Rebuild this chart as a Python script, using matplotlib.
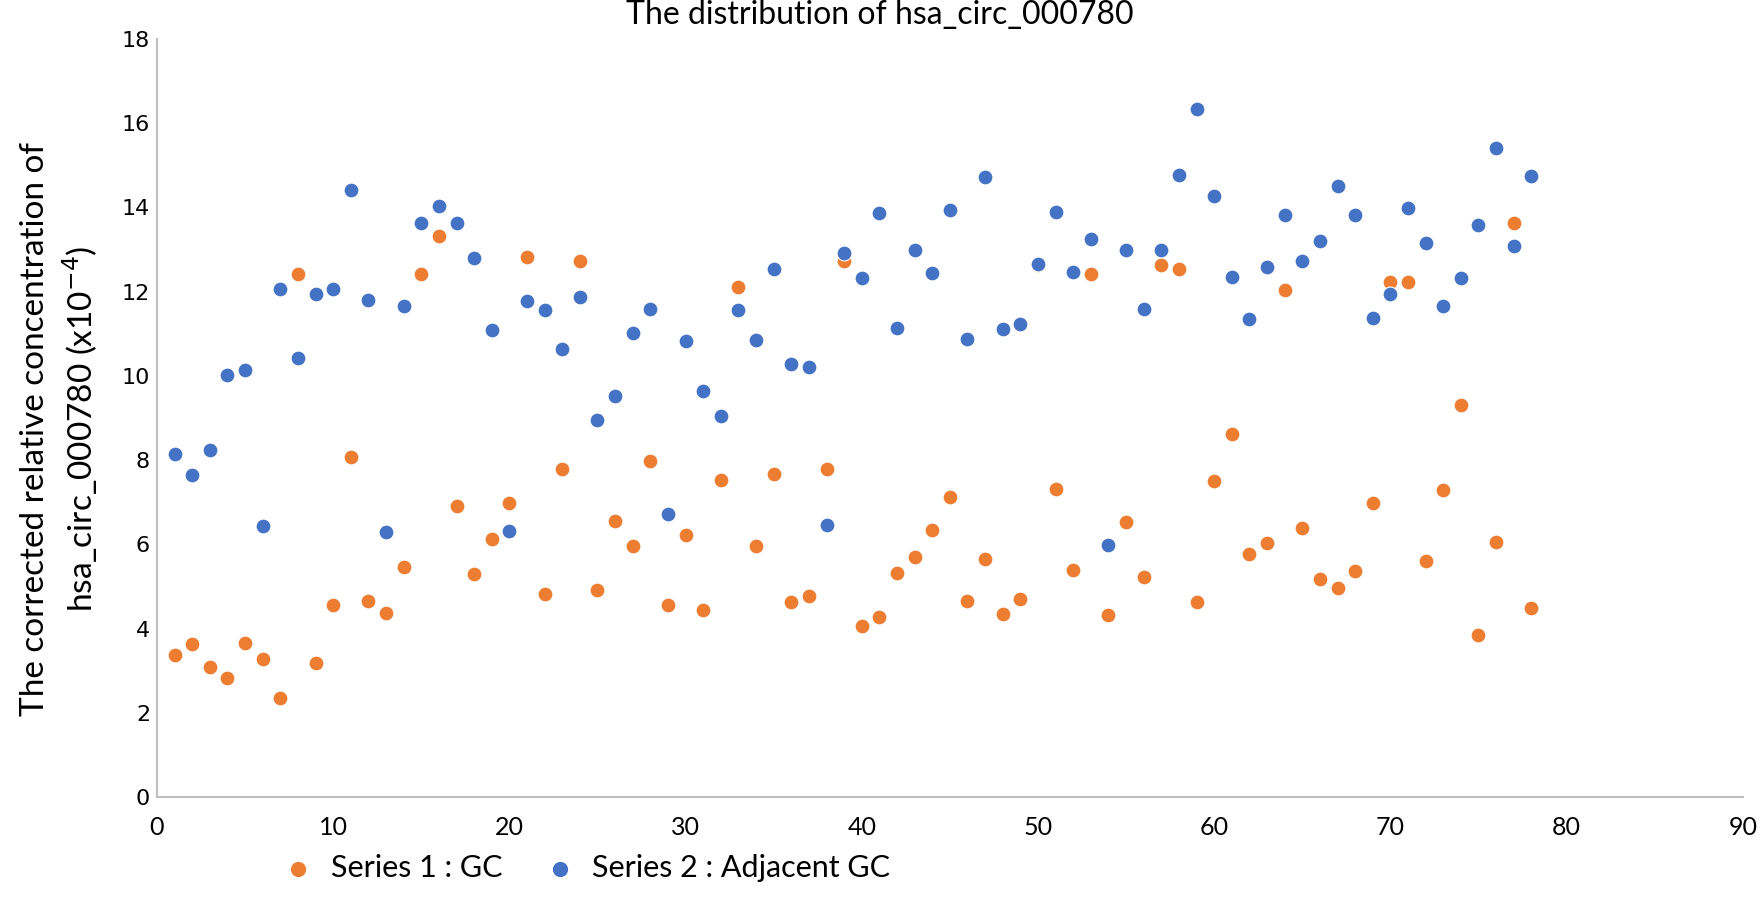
import matplotlib
matplotlib.use("Agg")
import matplotlib.pyplot as plt

# sample index 1..78
sample_no = list(range(1, 79))

# Series 1 : GC (orange)
gc = [3.37, 3.63, 3.08, 2.82, 3.66, 3.28, 2.36, 12.43, 3.19, 4.57,
      8.07, 4.66, 4.37, 5.46, 12.43, 13.32, 6.92, 5.29, 6.12, 6.98,
      12.83, 4.83, 7.78, 12.72, 4.92, 6.55, 5.95, 7.98, 4.57, 6.21,
      4.43, 7.52, 12.11, 5.95, 7.67, 4.63, 4.77, 7.78, 12.72, 4.05,
      4.28, 5.32, 5.69, 6.35, 7.13, 4.66, 5.66, 4.34, 4.71, 12.63,
      7.32, 5.40, 12.43, 4.31, 6.52, 5.23, 12.63, 12.53, 4.62, 7.50,
      8.61, 5.77, 6.03, 12.03, 6.38, 5.17, 4.97, 5.37, 6.98, 12.23,
      12.23, 5.60, 7.29, 9.30, 3.85, 6.06, 13.63, 4.48]

# Series 2 : Adjacent GC (blue)
adjacent = [8.14, 7.64, 8.24, 10.02, 10.13, 6.44, 12.06, 10.42, 11.94, 12.06,
            14.41, 11.81, 6.29, 11.66, 13.64, 14.04, 13.64, 12.80, 11.08, 6.32,
            11.77, 11.57, 10.65, 11.88, 8.95, 9.53, 11.03, 11.60, 6.72, 10.82,
            9.65, 9.04, 11.57, 10.85, 12.55, 10.28, 10.22, 6.46, 12.92, 12.32,
            13.86, 11.14, 12.98, 12.45, 13.95, 10.88, 14.73, 11.12, 11.23, 12.66,
            13.90, 12.46, 13.26, 5.98, 12.98, 11.60, 12.98, 14.78, 16.33, 14.27,
            12.34, 11.34, 12.58, 13.81, 12.72, 13.21, 14.50, 13.81, 11.37, 11.94,
            13.98, 13.15, 11.66, 12.32, 13.58, 15.42, 13.09, 14.75]

x_ticks = [0, 10, 20, 30, 40, 50, 60, 70, 80, 90]
y_ticks = [0, 2, 4, 6, 8, 10, 12, 14, 16, 18]

plt.rcParams['font.family'] = ['Lato', 'DejaVu Sans']

fig = plt.figure(figsize=(17.6, 8.99), dpi=100)
ax = fig.add_axes([0.0892, 0.1135, 0.901, 0.8431])

ax.scatter(sample_no, gc, s=115, color='#ED7D31', edgecolors='white',
           linewidths=0.8, label='Series 1 : GC', zorder=3)
ax.scatter(sample_no, adjacent, s=115, color='#4472C4', edgecolors='white',
           linewidths=0.8, label='Series 2 : Adjacent GC', zorder=3)

ax.set_xlim(0, 90)
ax.set_ylim(0, 18)
ax.set_xticks(x_ticks)
ax.set_yticks(y_ticks)
ax.tick_params(axis='both', length=0)
ax.tick_params(axis='x', labelsize=18, pad=14)
ax.tick_params(axis='y', labelsize=16, pad=5)
for lab in ax.get_yticklabels():
    lab.set_fontfamily('DejaVu Sans')

for side in ['top', 'right']:
    ax.spines[side].set_visible(False)
for side in ['left', 'bottom']:
    ax.spines[side].set_color('#BFBFBF')
    ax.spines[side].set_linewidth(1.5)

fig.text(0.5, 0.983, 'The distribution of hsa_circ_000780', ha='center',
         va='center', fontsize=23)

fig.text(0.034, 0.523,
         'The corrected relative concentration of\nhsa_circ_000780 (x10$^{-4}$)',
         ha='center', va='center', rotation=90, fontsize=24,
         linespacing=1.3)

fig.legend(loc='center', bbox_to_anchor=(0.329, 0.035), ncol=2, frameon=False,
           fontsize=22, handletextpad=0.05, columnspacing=0.9, markerscale=1.1)

fig.savefig('out.png', dpi=100)
